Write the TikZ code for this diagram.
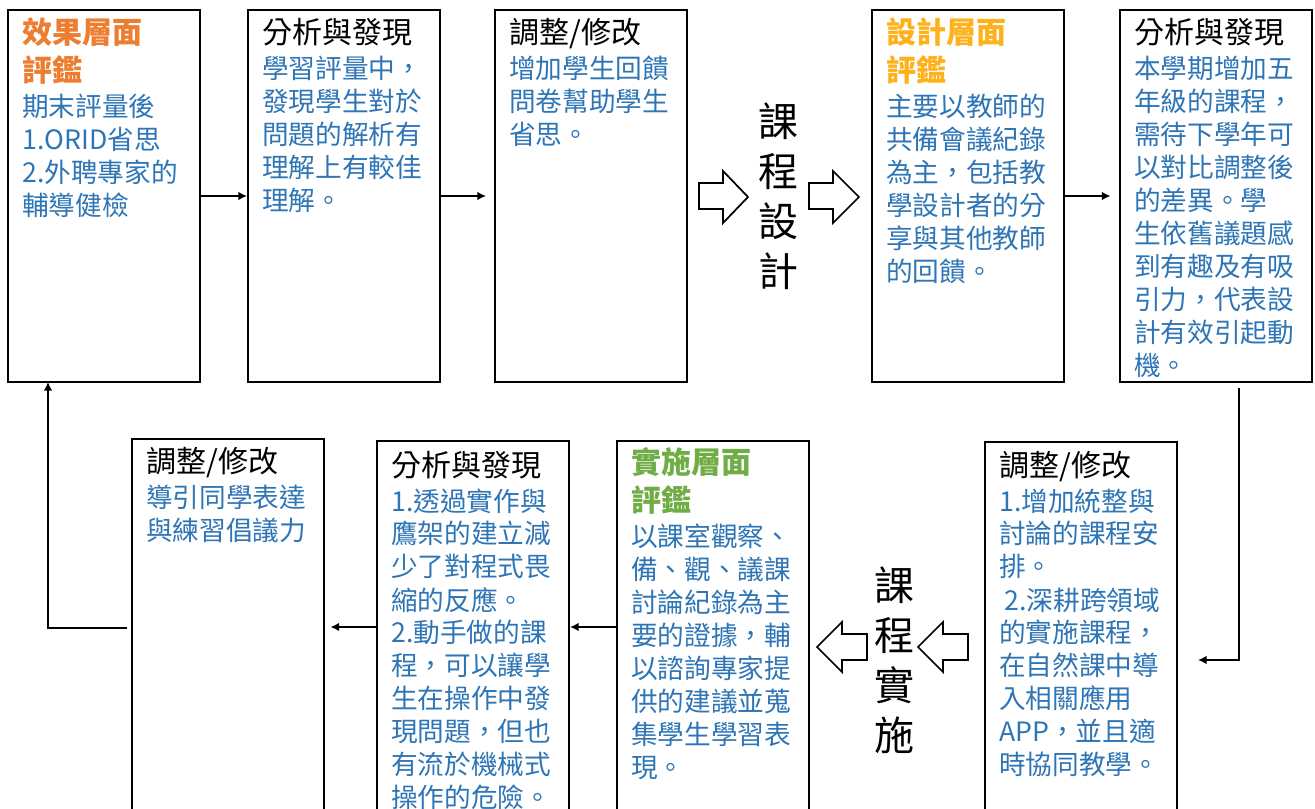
\documentclass[tikz,border=0pt]{standalone}
\usepackage{fontspec}
\setmainfont[Script=CJK, Language=Chinese Traditional]{Noto Sans CJK TC}
\usepackage{xcolor}
\usetikzlibrary{calc, arrows.meta}

\definecolor{txtblue}{HTML}{2E75B6}
\definecolor{evalorange}{HTML}{ED7D31}
\definecolor{evalgold}{HTML}{FFB11B}
\definecolor{evalgreen}{HTML}{70AD47}

\newcommand{\headfont}{\fontsize{22.5}{28.5}\selectfont}
\newcommand{\bodyfont}{\fontsize{20}{24.75}\selectfont\color{txtblue}}

\tikzset{
  box/.style={draw, line width=1.5pt, minimum width=144pt, minimum height=279pt, inner sep=0pt},
  note/.style={anchor=base west, inner sep=0pt, text width=135pt, align=left},
  conn/.style={line width=1.2pt, -{Latex[length=6.5pt,width=6.5pt]}},
  hollow/.style={draw, line width=1.3pt, fill=white, line join=miter},
  vtext/.style={align=center, inner sep=0pt, font=\fontsize{30}{37.5}\selectfont},
}

\begin{document}
\begin{tikzpicture}[x=0.75pt,y=0.75pt,yscale=-1,xscale=1]
      \useasboundingbox (0,0) rectangle (1315,809);
      \clip (0,0) rectangle (1315,809);
      % boxes
      \node[box] (b1) at (104,196) {};
      \node[box] (b2) at (344,196) {};
      \node[box] (b3) at (591,196) {};
      \node[box] (b4) at (967.5,196) {};
      \node[box] (b5) at (1215.5,196) {};
      \node[box] (B1) at (227.5,625) {};
      \node[box] (B2) at (473,627) {};
      \node[box] (B3) at (713,627) {};
      \node[box] (B4) at (1080.5,628) {};
      % texts
      \node[note] (t1) at (22,44) {{\headfont\bfseries\color{evalorange}效果層面\\評鑑\par}\vspace{1.5pt}{\bodyfont 期末評量後\\1.ORID省思\\2.外聘專家的\\輔導健檢\par}};
      \node[note] (t2) at (262,44) {{\headfont 分析與發現\par}\vspace{1.5pt}{\bodyfont 學習評量中，\\發現學生對於\\問題的解析有\\理解上有較佳\\理解。\par}};
      \node[note] (t3) at (509,44) {{\headfont 調整/修改\par}\vspace{1.5pt}{\bodyfont 增加學生回饋\\問卷幫助學生\\省思。\par}};
      \node[note] (t4) at (886,44) {{\headfont\bfseries\color{evalgold}設計層面\\評鑑\par}\vspace{1.5pt}{\bodyfont 主要以教師的\\共備會議紀錄\\為主，包括教\\學設計者的分\\享與其他教師\\的回饋。\par}};
      \node[note] (t5) at (1134,44) {{\headfont 分析與發現\par}\vspace{1.5pt}{\bodyfont 本學期增加五\\年級的課程，\\需待下學年可\\以對比調整後\\的差異。學\\生依舊議題感\\到有趣及有吸\\引力，代表設\\計有效引起動\\機。\par}};
      \node[note] (T1) at (146,473) {{\headfont 調整/修改\par}\vspace{1.5pt}{\bodyfont 導引同學表達\\與練習倡議力\par}};
      \node[note] (T2) at (391,476) {{\headfont 分析與發現\par}\vspace{1.5pt}{\bodyfont 1.透過實作與\\鷹架的建立減\\少了對程式畏\\縮的反應。\\2.動手做的課\\程，可以讓學\\生在操作中發\\現問題，但也\\有流於機械式\\操作的危險。\par}};
      \node[note] (T3) at (631,474) {{\headfont\bfseries\color{evalgreen}實施層面\\評鑑\par}\vspace{1.5pt}{\bodyfont 以課室觀察、\\備、觀、議課\\討論紀錄為主\\要的證據，輔\\以諮詢專家提\\供的建議並蒐\\集學生學習表\\現。\par}};
      \node[note] (T4) at (999,476) {{\headfont 調整/修改\par}\vspace{1.5pt}{\bodyfont 1.增加統整與\\討論的課程安\\排。\\\hspace*{4pt}2.深耕跨領域\\的實施課程，\\在自然課中導\\入相關應用\\APP，並且適\\時協同教學。\par}};
      \node[vtext] (design) at (778,196) {課\\程\\設\\計};
      \node[vtext] (practice) at (894,660) {課\\程\\實\\施};
      % hollow arrows
      \draw[hollow] (699,183) -- (723,183) -- (723,171) -- (748,197) -- (723,223) -- (723,209) -- (699,209) -- cycle;
      \draw[hollow] (809,183) -- (833,183) -- (833,171) -- (859,197) -- (833,223) -- (833,209) -- (809,209) -- cycle;
      \draw[hollow] (968,634) -- (943,634) -- (943,622) -- (918,647) -- (943,672) -- (943,660) -- (968,660) -- cycle;
      \draw[hollow] (867,634) -- (842,634) -- (842,622) -- (817,647) -- (842,672) -- (842,660) -- (867,660) -- cycle;
      % connectors
      \coordinate (b5out) at (1239,388);
      \coordinate (B4in) at (1198,660);
      \coordinate (B1out) at (127,628);
      \coordinate (b1in) at (48,382);
      \draw[conn] (b1) -- (b2);
      \draw[conn, shorten >=6pt] (b2) -- (b3);
      \draw[conn, shorten >=6pt] (b4) -- (b5);
      \draw[conn] (b5out) |- (B4in);
      \draw[conn] (B3.west) -- (B2.east);
      \draw[conn, shorten >=4.5pt] (B2.west) -- (B2.west -| B1.east);
      \draw[conn] (B1out) -| (b1in);
\end{tikzpicture}
\end{document}
